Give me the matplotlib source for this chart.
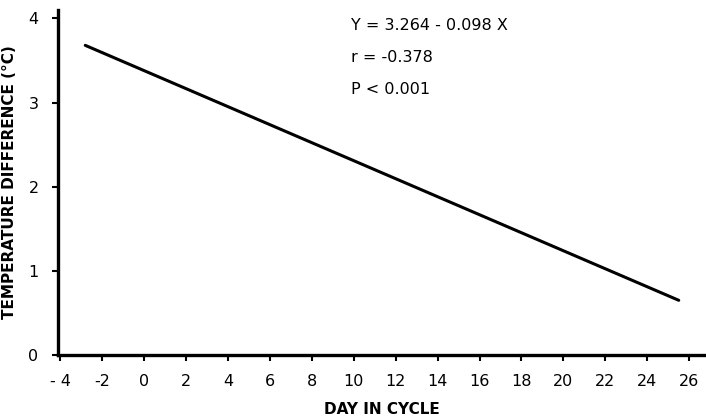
import numpy as np
import matplotlib
matplotlib.use("Agg")
import matplotlib.pyplot as plt

# ---------- data ----------
day = [-2.8, 25.5]             # fitted line end points (x)
temp_diff = [3.68, 0.65]       # fitted line end points (y)
x_ticks = list(range(-4, 27, 2))
y_ticks = [0, 1, 2, 3, 4]
stats_lines = ["Y = 3.264 - 0.098 X", "r = -0.378", "P < 0.001"]

plt.rcParams["font.family"] = "DejaVu Sans"

fig = plt.figure(figsize=(7.06, 4.18), dpi=100)
ax = fig.add_axes([58 / 706, 1 - 355 / 418, 1 - 58 / 706, 345 / 418])

ax.plot(day, temp_diff, color="black", lw=2.2, solid_capstyle="round")

ax.set_xlim(-4.1, 26.8)
ax.set_ylim(0, 4.1)
ax.set_xticks(x_ticks)
ax.set_yticks(y_ticks)
ax.set_xticklabels([str(t).replace("-", "- ") if t == -4 else str(t) for t in x_ticks])

for s in ["top", "right"]:
    ax.spines[s].set_visible(False)
for s in ["left", "bottom"]:
    ax.spines[s].set_linewidth(2.4)

ax.tick_params(axis="both", direction="out", length=4, width=1.5,
               labelsize=11.5, colors="black")
ax.tick_params(axis="x", pad=10)
ax.tick_params(axis="y", pad=10)

ax.set_xlabel("DAY IN CYCLE", fontsize=11, fontweight="bold", labelpad=9)
ax.set_ylabel("TEMPERATURE DIFFERENCE (°C)", fontsize=11, fontweight="bold",
              labelpad=8)

# regression statistics
for i, line in enumerate(stats_lines):
    ax.text(0.452, 0.955 - i * 0.092, line, transform=ax.transAxes,
            fontsize=11.5, ha="left", va="center")

fig.savefig("out.png", dpi=100)
